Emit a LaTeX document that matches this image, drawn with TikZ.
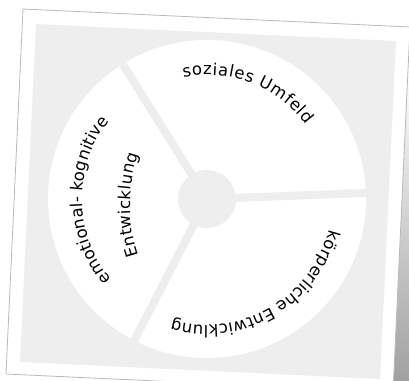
\documentclass[tikz,border=0pt]{standalone}
\usepackage{fontspec}
\setmainfont{DejaVu Sans}
\usepackage{tikz}
\usetikzlibrary{decorations.text, calc}
\definecolor{panelgray}{RGB}{238, 238, 238}
\definecolor{edgegray}{RGB}{185, 185, 185}
\newcommand{\wheelfont}{\fontsize{16.5}{19}\selectfont}

\begin{document}
\begin{tikzpicture}[x=1pt, y=1pt,
    paper/.style={fill=white, draw=edgegray, line width=0.8pt},
    panel/.style={fill=panelgray},
    spoke/.style={draw=panelgray, line width=8pt},
    hub/.style={circle, fill=panelgray, minimum size=58pt, inner sep=0pt},
    arclabel/.style={decorate, decoration={text along path,
                     text={|\wheelfont|#1}, text align=fit to path}}
]
    \useasboundingbox (0,0) rectangle (409,380);

    % Shadow and paper
    \shade[top color=white, bottom color=gray!75]
        (405,310) -- (412,310) -- (412,-5) -- (390,-5) -- cycle;
    \draw[paper] (23,371) -- (410,353) -- (393,-12) -- (6,6) -- cycle;
    \fill[panel] (36,356) -- (396,339) -- (380,1) -- (20,18) -- cycle;

    % Wheel
    \coordinate (c) at (207,181);
    \fill[white] (c) circle (159);
    \coordinate (s1) at ($(c)+(122:159)$);
    \coordinate (s2) at ($(c)+(2.2:159)$);
    \coordinate (s3) at ($(c)+(-117.2:159)$);
    \draw[spoke] (c) -- (s1);
    \draw[spoke] (c) -- (s2);
    \draw[spoke] (c) -- (s3);
    \node[hub] (hub) at (c) {};

    % Sector labels
    \path[arclabel={soziales Umfeld}]
        ($(c)+(101:124)$) arc[start angle=101, end angle=37, radius=124];
    \path[arclabel={emotional- kognitive}]
        ($(c)+(220:125)$) arc[start angle=220, end angle=141.5, radius=125];
    \path[arclabel={körperliche Entwicklung}]
        ($(c)+(-14:126)$) arc[start angle=-14, end angle=-106, radius=126];
    \coordinate (e) at (290,175);
    \path[arclabel={Entwicklung}]
        ($(e)+(198.5:160)$) arc[start angle=198.5, end angle=161.5, radius=160];
\end{tikzpicture}
\end{document}
